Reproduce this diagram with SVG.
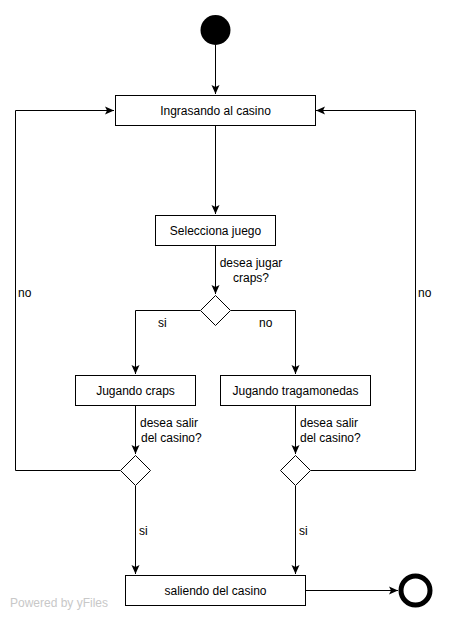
<svg xmlns="http://www.w3.org/2000/svg" width="450" height="620" viewBox="0 0 450 620">
<style>
.box{fill:#fff;stroke:#000;stroke-width:1}
.dia{fill:#fff;stroke:#000;stroke-width:1}
.t{font-family:"Liberation Sans",Arial,sans-serif;font-size:12px;fill:#000}
.c{text-anchor:middle}
.edge{fill:none;stroke:#000;stroke-width:1}
.wm{font-family:"Liberation Sans",Arial,sans-serif;font-size:12px;fill:#c8c8c8}
</style>
<defs>
<marker id="arr" markerWidth="10" markerHeight="10" refX="9" refY="5" orient="auto" markerUnits="userSpaceOnUse">
<path d="M0,1 L9,5 L0,9 L2,5 Z" fill="#000"/>
</marker>
</defs>
<rect width="450" height="620" fill="#fff"/>
<g id="connectors">
<path class="edge" d="M215.5,45 V94" marker-end="url(#arr)"/>
<path class="edge" d="M215.5,125 V214" marker-end="url(#arr)"/>
<path class="edge" d="M215.5,245 V294" marker-end="url(#arr)"/>
<path class="edge" d="M200,310.5 H135.5 V374" marker-end="url(#arr)"/>
<path class="edge" d="M231,310.5 H295.5 V374" marker-end="url(#arr)"/>
<path class="edge" d="M135.5,405 V454" marker-end="url(#arr)"/>
<path class="edge" d="M295.5,405 V454" marker-end="url(#arr)"/>
<path class="edge" d="M120,470.5 H15.5 V110.5 H114" marker-end="url(#arr)"/>
<path class="edge" d="M311,470.5 H415.5 V110.5 H316" marker-end="url(#arr)"/>
<path class="edge" d="M135.5,486 V574" marker-end="url(#arr)"/>
<path class="edge" d="M295.5,486 V574" marker-end="url(#arr)"/>
<path class="edge" d="M305,590.5 H398" marker-end="url(#arr)"/>
<text class="t c" x="251" y="267">desea jugar</text>
<text class="t c" x="251" y="282">craps?</text>
<text class="t" x="158" y="327">si</text>
<text class="t" x="259" y="327">no</text>
<text class="t" x="140" y="427">desea salir</text>
<text class="t" x="141" y="442">del casino?</text>
<text class="t" x="300" y="427">desea salir</text>
<text class="t" x="300" y="442">del casino?</text>
<text class="t" x="18" y="297">no</text>
<text class="t" x="418" y="297">no</text>
<text class="t" x="139" y="535">si</text>
<text class="t" x="299" y="535">si</text>
</g>
<g id="start"><circle cx="215.5" cy="30" r="15" fill="#000"/></g>
<g id="ingresando"><rect class="box" x="115.5" y="95.5" width="200" height="30"/><text class="t c" x="215.5" y="115">Ingrasando al casino</text></g>
<g id="selecciona"><rect class="box" x="155.5" y="215.5" width="120" height="30"/><text class="t c" x="215.5" y="235">Selecciona juego</text></g>
<g id="decision1"><path class="dia" d="M215.5,295.5 L230.5,310.5 L215.5,325.5 L200.5,310.5 Z"/></g>
<g id="craps"><rect class="box" x="75.5" y="375.5" width="120" height="30"/><text class="t c" x="135.5" y="395">Jugando craps</text></g>
<g id="tragamonedas"><rect class="box" x="220.5" y="375.5" width="150" height="30"/><text class="t c" x="295.5" y="395">Jugando tragamonedas</text></g>
<g id="decision2"><path class="dia" d="M135.5,455.5 L150.5,470.5 L135.5,485.5 L120.5,470.5 Z"/></g>
<g id="decision3"><path class="dia" d="M295.5,455.5 L310.5,470.5 L295.5,485.5 L280.5,470.5 Z"/></g>
<g id="saliendo"><rect class="box" x="125.5" y="575.5" width="180" height="30"/><text class="t c" x="215.5" y="595">saliendo del casino</text></g>
<g id="end"><circle cx="415.5" cy="590.5" r="14.5" fill="#fff" stroke="#000" stroke-width="5"/></g>
<text class="wm" x="10" y="607">Powered by yFiles</text>
</svg>
